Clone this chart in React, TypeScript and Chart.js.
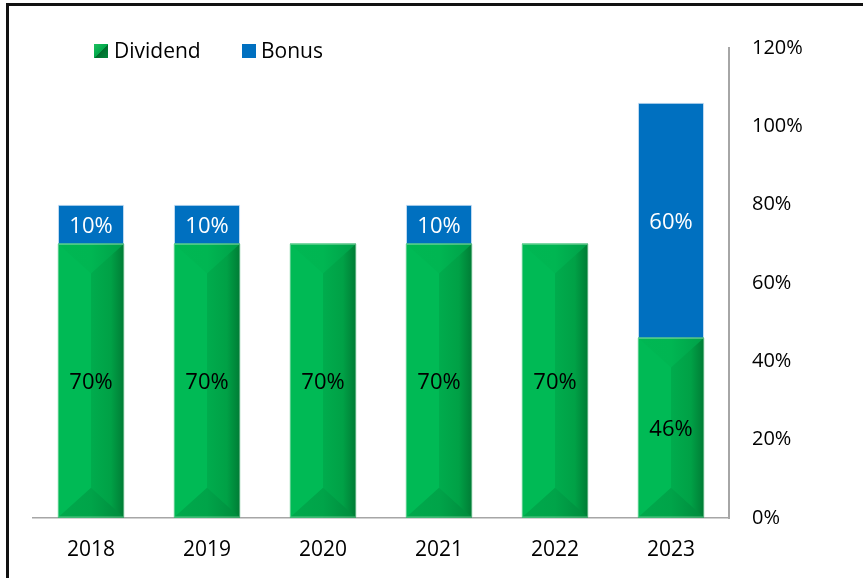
import React, { useEffect, useRef } from "react";
import { Chart, registerables } from "chart.js";

Chart.register(...registerables);

const years = ["2018", "2019", "2020", "2021", "2022", "2023"];
const dividend = [70, 70, 70, 70, 70, 46];
const bonus = [10, 10, null, 10, null, 60];
const seriesNames = ["Dividend", "Bonus"];

const FONT = "'Open Sans', 'DejaVu Sans', sans-serif";
const GREEN = "#00B050";
const BLUE = "#0070C0";
const AXIS = "#A6A6A6";

const bevelPlugin = {
  id: "bevel",
  afterDatasetDraw(chart: any, args: any) {
    if (args.index !== 0) return;
    const ctx = chart.ctx;
    const meta = chart.getDatasetMeta(0);
    meta.data.forEach((bar: any) => {
      const { x, y, base, width } = bar.getProps(["x", "y", "base", "width"], true);
      const l = x - width / 2;
      const r = x + width / 2;
      const top = Math.min(y, base);
      const bot = Math.max(y, base);
      const h = bot - top;
      if (h <= 0) return;
      const d = Math.min(width * 0.45, h / 2);
      ctx.save();
      ctx.fillStyle = "#00BA55";
      ctx.fillRect(l, top, width / 2, h);
      const g = ctx.createLinearGradient(x, 0, r, 0);
      g.addColorStop(0, "#00AC4D");
      g.addColorStop(0.6, "#00A146");
      g.addColorStop(1, "#007C35");
      ctx.fillStyle = g;
      ctx.fillRect(x, top, width / 2, h);
      const gt = ctx.createLinearGradient(l, 0, r, 0);
      gt.addColorStop(0, "#00B753");
      gt.addColorStop(0.5, "#00B652");
      gt.addColorStop(1, "#00A048");
      ctx.beginPath();
      ctx.moveTo(l, top);
      ctx.lineTo(r, top);
      ctx.lineTo(x, top + d);
      ctx.closePath();
      ctx.fillStyle = gt;
      ctx.fill();
      const gb = ctx.createLinearGradient(l, 0, r, 0);
      gb.addColorStop(0, "#00A94C");
      gb.addColorStop(0.5, "#00A449");
      gb.addColorStop(1, "#008A3C");
      ctx.beginPath();
      ctx.moveTo(l, bot);
      ctx.lineTo(r, bot);
      ctx.lineTo(x, bot - d);
      ctx.closePath();
      ctx.fillStyle = gb;
      ctx.fill();
      ctx.strokeStyle = "rgba(200,235,210,0.45)";
      ctx.lineWidth = 1;
      ctx.strokeRect(l + 0.5, top + 0.5, width - 1, h - 1);
      ctx.restore();
    });
  },
};

const labelPlugin = {
  id: "barLabels",
  afterDatasetsDraw(chart: any) {
    const ctx = chart.ctx;
    ctx.save();
    ctx.font = `22px ${FONT}`;
    ctx.textAlign = "center";
    ctx.textBaseline = "middle";
    chart.data.datasets.forEach((ds: any, di: number) => {
      const meta = chart.getDatasetMeta(di);
      meta.data.forEach((bar: any, i: number) => {
        const v = ds.data[i];
        if (v === null || v === undefined) return;
        const { x, y, base } = bar.getProps(["x", "y", "base"], true);
        ctx.fillStyle = di === 0 ? "#000000" : "#FFFFFF";
        ctx.fillText(`${v}%`, x, (y + base) / 2 + 2);
      });
    });
    ctx.restore();
  },
};

export default function App() {
  const ref = useRef<HTMLCanvasElement | null>(null);

  useEffect(() => {
    if (!ref.current) return;
    const chart = new Chart(ref.current, {
      type: "bar",
      data: {
        labels: years,
        datasets: [
          {
            label: seriesNames[0],
            data: dividend,
            backgroundColor: GREEN,
            categoryPercentage: 0.57,
            barPercentage: 1,
          },
          {
            label: seriesNames[1],
            data: bonus as any,
            backgroundColor: BLUE,
            borderColor: "rgba(160,200,235,0.6)",
            borderWidth: 1,
            categoryPercentage: 0.57,
            barPercentage: 1,
          },
        ],
      },
      options: {
        animation: false,
        responsive: true,
        maintainAspectRatio: false,
        layout: { padding: { left: 33, top: 48, right: 0, bottom: 0 } },
        plugins: {
          legend: { display: false },
          tooltip: { enabled: false },
        },
        scales: {
          x: {
            stacked: true,
            grid: { color: "transparent", drawTicks: false },
            border: { display: true, color: AXIS, width: 1.5 },
            ticks: {
              color: "#000",
              font: { family: FONT, size: 21 },
              padding: 19,
            },
            afterFit: (s: any) => {
              s.height = 60;
            },
          },
          y: {
            stacked: true,
            position: "right",
            min: 0,
            max: 120,
            grid: { color: "transparent", drawTicks: false },
            border: { display: true, color: AXIS, width: 2 },
            ticks: {
              stepSize: 20,
              color: "#000",
              font: { family: FONT, size: 20 },
              padding: 23,
              callback: (v: any) => `${v}%`,
            },
            afterFit: (s: any) => {
              s.width = 134;
            },
          },
        },
      },
      plugins: [bevelPlugin, labelPlugin],
    });
    return () => chart.destroy();
  }, []);

  const legendText: React.CSSProperties = {
    position: "absolute",
    fontFamily: FONT,
    fontSize: 21,
    lineHeight: "24px",
    color: "#000",
    top: 38,
    whiteSpace: "nowrap",
  };

  return (
    <div
      style={{
        position: "fixed",
        left: 0,
        top: 0,
        width: 863,
        height: 578,
        overflow: "hidden",
        background: "#fff",
      }}
    >
      <div style={{ position: "absolute", left: 0, top: 0, width: 863, height: 578 }}>
        <canvas ref={ref} />
      </div>
      <div
        style={{
          position: "absolute",
          left: 6,
          top: 3,
          width: 870,
          height: 600,
          borderTop: "3px solid #111",
          borderLeft: "3px solid #111",
          pointerEvents: "none",
        }}
      />
      <div
        style={{
          position: "absolute",
          left: 94,
          top: 44,
          width: 14,
          height: 14,
          background: "linear-gradient(135deg, #1FC060 0%, #00A84A 50%, #006B2C 51%, #00873A 100%)",
        }}
      />
      <div style={{ ...legendText, left: 114 }}>{seriesNames[0]}</div>
      <div
        style={{
          position: "absolute",
          left: 242,
          top: 44,
          width: 14,
          height: 14,
          background: BLUE,
        }}
      />
      <div style={{ ...legendText, left: 261 }}>{seriesNames[1]}</div>
    </div>
  );
}
